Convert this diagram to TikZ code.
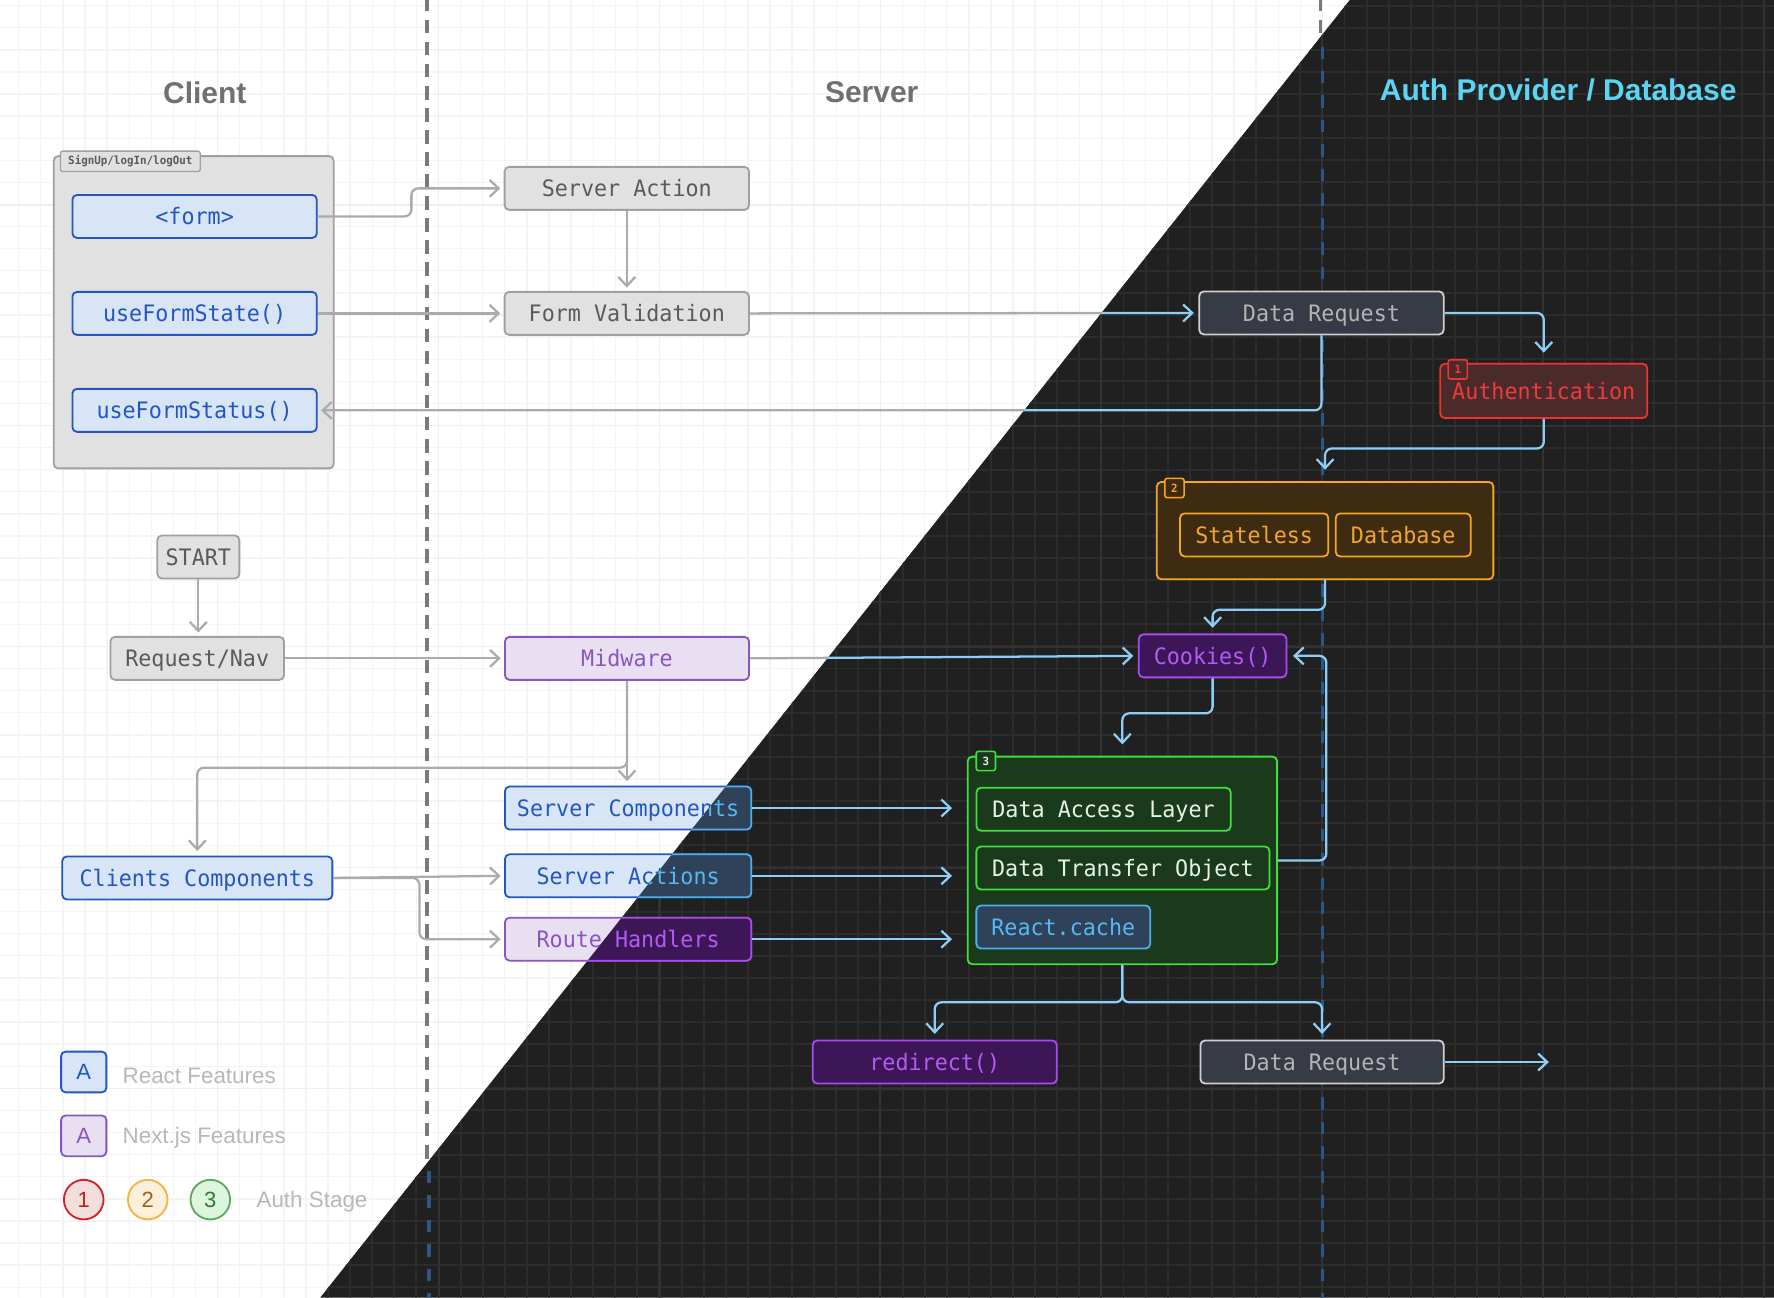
\documentclass[tikz,border=0pt]{standalone}
\usepackage{fontspec}
\setmainfont{Liberation Sans}
\newfontfamily\monof{DejaVu Sans Mono}[FakeStretch=0.96]
\usetikzlibrary{arrows.meta}

\definecolor{darkbg}{HTML}{202020}
\definecolor{gridL}{HTML}{F4F4F4}
\definecolor{gridLmaj}{HTML}{EFEFEF}
\definecolor{gridD}{HTML}{2C2C2C}
\definecolor{gridDmaj}{HTML}{323232}
\definecolor{gfill}{HTML}{E1E1E1}
\definecolor{gdraw}{HTML}{A0A0A0}
\definecolor{gtext}{HTML}{5A5A5A}
\definecolor{bfill}{HTML}{D8E5F7}
\definecolor{bdraw}{HTML}{2456C0}
\definecolor{btext}{HTML}{2456C0}
\definecolor{pfill}{HTML}{E8E0F0}
\definecolor{pdraw}{HTML}{8A55C0}
\definecolor{ptext}{HTML}{8A55C0}
\definecolor{conG}{HTML}{ABABAB}
\definecolor{conB}{HTML}{8ECDF5}
\definecolor{dashG}{HTML}{7A7A7A}
\definecolor{dashB}{HTML}{2B5686}
\definecolor{slfill}{HTML}{363B46}
\definecolor{sldraw}{HTML}{D0D0D0}
\definecolor{sltext}{HTML}{B4B4B4}
\definecolor{rfill}{HTML}{4A2A2A}
\definecolor{rdraw}{HTML}{EE3333}
\definecolor{rtext}{HTML}{EE3B3B}
\definecolor{ofill}{HTML}{3E2C12}
\definecolor{odraw}{HTML}{F5A623}
\definecolor{otext}{HTML}{F2A431}
\definecolor{dpfill}{HTML}{3C1656}
\definecolor{dpdraw}{HTML}{A84CF0}
\definecolor{dptext}{HTML}{B35CF5}
\definecolor{gnfill}{HTML}{1B3A1B}
\definecolor{gndraw}{HTML}{3FE03F}
\definecolor{gntext}{HTML}{E6F2E6}
\definecolor{dbfill}{HTML}{2F4259}
\definecolor{dbdraw}{HTML}{4CB0EC}
\definecolor{dbtext}{HTML}{56B8F2}
\definecolor{titleG}{HTML}{707070}
\definecolor{titleC}{HTML}{5CD4F2}
\definecolor{legtext}{HTML}{B8B8B8}
\definecolor{cAfill}{HTML}{F3DEDE}
\definecolor{cAdraw}{HTML}{D42020}
\definecolor{cAtext}{HTML}{C02020}
\definecolor{cBfill}{HTML}{FCEFDB}
\definecolor{cBdraw}{HTML}{F5B23F}
\definecolor{cBtext}{HTML}{A0601A}
\definecolor{cCfill}{HTML}{DDF5DC}
\definecolor{cCdraw}{HTML}{5CA85C}
\definecolor{cCtext}{HTML}{2E7D32}

\tikzset{
  mono/.style={font=\monof\fontsize{20}{24}\selectfont},
  nbox/.style={rectangle, rounded corners=4pt, line width=1.6pt, inner sep=0pt,
     mono, text height=14.6pt, text depth=0pt, minimum height=38pt},
  grayN/.style={nbox, fill=gfill, draw=gdraw, text=gtext},
  blueN/.style={nbox, fill=bfill, draw=bdraw, text=btext},
  lavN/.style={nbox, fill=pfill, draw=pdraw, text=ptext},
  slateN/.style={nbox, fill=slfill, draw=sldraw, text=sltext},
  redN/.style={nbox, fill=rfill, draw=rdraw, text=rtext},
  orangeN/.style={nbox, fill=ofill, draw=odraw, text=otext},
  purpN/.style={nbox, fill=dpfill, draw=dpdraw, text=dptext},
  greenN/.style={nbox, fill=gnfill, draw=gndraw, text=gntext},
  dblueN/.style={nbox, fill=dbfill, draw=dbdraw, text=dbtext},
  grp/.style={rectangle, rounded corners=4pt, line width=1.6pt, inner sep=0pt},
  badge/.style={rectangle, rounded corners=2pt, line width=1.4pt, inner sep=0pt,
     font=\monof\bfseries\fontsize{10}{11}\selectfont, minimum width=17pt, minimum height=17pt},
  arrowhd/.style={-{Straight Barb[length=8pt,width=15pt]}},
  conn/.style={line width=2pt, rounded corners=6pt, arrowhd},
  gcon/.style={conn, draw=conG},
  bcon/.style={conn, draw=conB},
  ttl/.style={font=\bfseries\fontsize{26.5}{30}\selectfont, text height=19pt, text depth=0pt, inner sep=0pt},
  legtxt/.style={font=\fontsize{19.8}{23}\selectfont, text=legtext, anchor=west, inner sep=0pt, text height=14.2pt, text depth=0pt},
  legsq/.style={rectangle, rounded corners=4pt, line width=1.6pt, minimum width=40pt, minimum height=36pt, inner sep=0pt, font=\fontsize{19.5}{24}\selectfont, text height=13.9pt, text depth=0pt},
  legci/.style={circle, line width=1.6pt, minimum size=35pt, inner sep=0pt, font=\fontsize{19.5}{24}\selectfont, text height=13.9pt, text depth=0pt},
  dashln/.style={line width=3pt, dash pattern=on 12pt off 7.5pt},
  dashlnD/.style={line width=3.3pt, dash pattern=on 11pt off 10.6pt},
}

\begin{document}
\begin{tikzpicture}[x=1pt,y=-1pt]
\useasboundingbox (0,0) rectangle (1568,1147);
% ---------- light half
\fill[white] (0,0) rectangle (1568,1147);
\begin{scope}
  \clip (0,0) -- (1193,0) -- (283,1147) -- (0,1147) -- cycle;
  \foreach \i in {0,...,80} \draw[gridL, line width=1.2pt] ({-3+19.53*\i},0) -- ++(0,1147);
  \foreach \j in {0,...,59} \draw[gridL, line width=1.2pt] (0,{5+19.53*\j}) -- ++(1568,0);
  \foreach \i in {0,...,8} \draw[gridLmaj, line width=1.3pt] ({-3+195.3*\i},0) -- ++(0,1147);
  \foreach \j in {0,...,6} \draw[gridLmaj, line width=1.3pt] (0,{-14.3+195.3*\j}) -- ++(1568,0);
  \draw[dashG, dashln] (377.3,-2) -- (377.3,1150);
  \draw[dashG, dashln] (1167,-2) -- (1167,1150);
\end{scope}
% ---------- dark half
\fill[darkbg] (1193,0) -- (1568,0) -- (1568,1147) -- (283,1147) -- cycle;
\begin{scope}
  \clip (1193,0) -- (1568,0) -- (1568,1147) -- (283,1147) -- cycle;
  \foreach \i in {0,...,80} \draw[gridD, line width=1.7pt] ({-3+19.53*\i},0) -- ++(0,1147);
  \foreach \j in {0,...,59} \draw[gridD, line width=1.7pt] (0,{5+19.53*\j}) -- ++(1568,0);
  \foreach \i in {0,...,8} \draw[gridDmaj, line width=1.8pt] ({-3+195.3*\i},0) -- ++(0,1147);
  \foreach \j in {0,...,6} \draw[gridDmaj, line width=1.8pt] (0,{-14.3+195.3*\j}) -- ++(1568,0);
  \draw[dashB, dashlnD] (379.5,-2) -- (379.5,1150);
  \draw[dashB, dashlnD] (1169,-2) -- (1169,1150);
\end{scope}

% ---------- titles
\node[ttl, text=titleG] (tClient) at (181,82) {Client};
\node[ttl, text=titleG] (tServer) at (770.5,81) {Server};
\node[ttl, text=titleC] (tAuth) at (1377.3,79) {Auth Provider / Database};

% ---------- client group
\node[grp, fill=gfill, draw=gdraw, minimum width=247.5pt, minimum height=276pt] (client) at (171.2,276) {};
\node[rectangle, rounded corners=2pt, fill=gfill, draw=gdraw, line width=1.2pt, inner sep=0pt,
      minimum width=123.5pt, minimum height=18pt, text=gtext,
      font=\monof\bfseries\fontsize{10}{12}\selectfont] (tab) at (115.2,142.6) {SignUp/logIn/logOut};
\node[blueN, minimum width=216pt] (form) at (172,191.3) {<form>};
\node[blueN, minimum width=216pt] (ufstate) at (172,277) {useFormState()};
\node[blueN, minimum width=216pt] (ufstatus) at (172,362.7) {useFormStatus()};

% ---------- light nodes
\node[grayN, minimum width=216pt] (sact) at (554,166.5) {Server Action};
\node[grayN, minimum width=216pt] (fval) at (554,277) {Form Validation};
\node[grayN, minimum width=72.5pt] (start) at (175.3,492.3) {START};
\node[grayN, minimum width=153.4pt] (reqnav) at (174.3,581.9) {Request/Nav};
\node[lavN, minimum width=215.7pt] (midw) at (554.2,581.9) {Midware};
\node[blueN, minimum width=238.7pt] (ccomp) at (174.4,776) {Clients Components};
\node[blueN, minimum width=217.7pt] (scomp) at (555.2,714.2) {Server Components};
\node[blueN, minimum width=217.7pt] (sacts) at (555.2,774.1) {Server Actions};
\node[lavN, minimum width=217.7pt] (rhand) at (555.2,830.1) {Route Handlers};
\begin{scope}
  \clip (1193,0) -- (1568,0) -- (1568,1147) -- (283,1147) -- cycle;
  \node[dblueN, minimum width=217.7pt] (scompD) at (555.2,714.2) {Server Components};
  \node[dblueN, minimum width=217.7pt] (sactsD) at (555.2,774.1) {Server Actions};
  \node[purpN, minimum width=217.7pt] (rhandD) at (555.2,830.1) {Route Handlers};
\end{scope}

% ---------- dark nodes
\node[slateN, minimum width=216pt] (dreq) at (1168,276.6) {Data Request};
\node[redN, minimum width=183pt, minimum height=48pt] (auth) at (1364.5,345.5) {Authentication};
\node[badge, draw=rdraw, fill=rfill, text=rtext] (b1) at (1288.5,326.5) {1};
\node[grp, fill=ofill, draw=odraw, minimum width=297.5pt, minimum height=86pt] (stage2) at (1171.2,469) {};
\node[badge, draw=odraw, fill=ofill, text=otext] (b2) at (1038.1,431.3) {2};
\node[orangeN, minimum width=131pt] (stless) at (1108.5,472.8) {Stateless};
\node[orangeN, minimum width=119.4pt] (dbase) at (1240.3,472.8) {Database};
\node[purpN, minimum width=130.5pt] (cookies) at (1071.8,579.7) {Cookies()};
\node[grp, fill=gnfill, draw=gndraw, minimum width=273.4pt, minimum height=183.5pt] (stage3) at (992,760.5) {};
\node[badge, draw=gndraw, fill=gnfill, text=gntext] (b3) at (871.4,672.6) {3};
\node[greenN, minimum width=224.7pt] (dal) at (975.4,715.3) {Data Access Layer};
\node[greenN, minimum width=259pt] (dto) at (992.5,767.2) {Data Transfer Object};
\node[dblueN, minimum width=153.6pt] (rcache) at (939.8,819.4) {React.cache};
\node[purpN, minimum width=215.8pt] (redir) at (826.2,938.7) {redirect()};
\node[slateN, minimum width=215pt] (dreq2) at (1168.5,938.7) {Data Request};

% ---------- gray connectors
\draw[gcon, shorten >=3pt] (form.east) -- (363.6,191.3) -- (363.6,166.5) -- (sact.west);
\draw[gcon, shorten >=3pt] (ufstate.east) -- (fval.west);
\draw[gcon, shorten >=3pt] (sact.south) -- (fval.north);
\draw[gcon, shorten >=3pt] (start.south) -- (start.south |- reqnav.north);
\draw[gcon, shorten >=3pt] (reqnav.east) -- (midw.west);
\draw[gcon, shorten >=4pt] (midw.south) -- (midw.south |- scomp.north);
\draw[gcon, shorten >=4pt] (midw.south) -- (554.2,678.5) -- (174.4,678.5) -- (ccomp.north);
\draw[gcon, shorten >=3pt] (ccomp.east) -- (sacts.west);
\draw[gcon, shorten >=3pt] (ccomp.east) -- (370.7,776) -- (370.7,830.1) -- (rhand.west);

% ---------- connectors crossing the diagonal
\begin{scope}
  \clip (0,0) -- (1193,0) -- (283,1147) -- (0,1147) -- cycle;
  \draw[gcon, shorten >=4pt] (fval.east) -- (dreq.west);
  \draw[gcon, shorten >=3pt] (dreq.south) -- (1168,362.7) -- (ufstatus.east);
  \draw[gcon, shorten >=4pt] (midw.east) -- (cookies.west);
\end{scope}
\begin{scope}
  \clip (1193,0) -- (1568,0) -- (1568,1147) -- (283,1147) -- cycle;
  \draw[bcon, shorten >=4pt] (fval.east) -- (dreq.west);
  \draw[bcon, shorten >=3pt] (dreq.south) -- (1168,362.7) -- (ufstatus.east);
  \draw[bcon, shorten >=4pt] (midw.east) -- (cookies.west);
\end{scope}

% ---------- blue connectors
\draw[bcon, shorten >=9pt] (dreq.east) -- (1364.5,276.6) -- (auth.north);
\draw[bcon, shorten >=10pt] (auth.south) -- (1364.5,396.4) -- (1171.2,396.4) -- (stage2.north);
\draw[bcon, shorten >=5pt] (stage2.south) -- (1171.2,539) -- (1071.8,539) -- (cookies.north);
\draw[bcon, shorten >=10pt] (cookies.south) -- (1071.8,630.5) -- (992,630.5) -- (stage3.north);
\draw[bcon, shorten >=5pt] (stage3.east) -- (1172.3,760.5) -- (1172.3,579.7) -- (cookies.east);
\draw[bcon, shorten >=13pt] (scomp.east) -- (scomp.east -| stage3.west);
\draw[bcon, shorten >=13pt] (sacts.east) -- (sacts.east -| stage3.west);
\draw[bcon, shorten >=13pt] (rhand.east) -- (rhand.east -| stage3.west);
\draw[bcon, shorten >=5pt] (stage3.south) -- (992,885.9) -- (826.2,885.9) -- (redir.north);
\draw[bcon, shorten >=5pt] (stage3.south) -- (992,885.9) -- (1168.5,885.9) -- (dreq2.north);
\coordinate (outR) at (1369,938.7);
\draw[bcon] (dreq2.east) -- (outR);

% ---------- legend
\node[legsq, fill=bfill, draw=bdraw, text=btext] (legA1) at (74,947.5) {A};
\node[legtxt] (legT1) at (108.2,951) {React Features};
\node[legsq, fill=pfill, draw=pdraw, text=ptext] (legA2) at (74,1003.9) {A};
\node[legtxt] (legT2) at (108.2,1004) {Next.js Features};
\node[legci, fill=cAfill, draw=cAdraw, text=cAtext] (st1) at (74,1060.3) {1};
\node[legci, fill=cBfill, draw=cBdraw, text=cBtext] (st2) at (130.6,1060.3) {2};
\node[legci, fill=cCfill, draw=cCdraw, text=cCtext] (st3) at (185.9,1060.3) {3};
\node[legtxt] (legT3) at (226.6,1060.3) {Auth Stage};
\end{tikzpicture}
\end{document}
